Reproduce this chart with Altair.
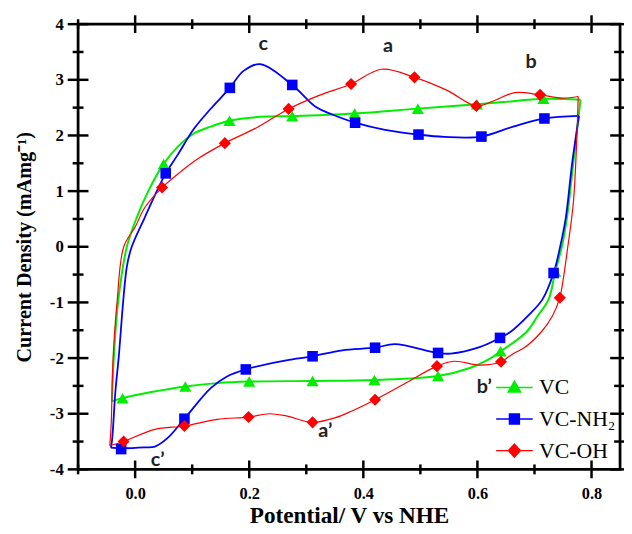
import altair as alt
import pandas as pd

series_names = ["VC", "VC-NH₂", "VC-OH"]
line_colors = ["#00ee00", "#0000ff", "#ff0000"]
line_widths = [2.0, 1.8, 1.2]
marker_shapes = ["triangle-up", "square", "diamond"]
marker_sizes = [150, 115, 150]

# ---- curve points (anodic "up" branch and cathodic "down" branch) ----
vc_up_x = [-0.0404, -0.0398, -0.0375, -0.030, -0.0145, 0.003, 0.023, 0.050, 0.0748, 0.1037, 0.1325, 0.1653, 0.219, 0.2754, 0.3848, 0.4955, 0.599, 0.645, 0.7157, 0.7807]
vc_up_y = [-2.777, -2.5, -2.01, -1.0, 0.0, 0.53, 1.0, 1.489, 1.80, 2.04, 2.158, 2.264, 2.335, 2.347, 2.394, 2.482, 2.56, 2.60, 2.66, 2.642]
vc_dn_x = [0.7807, 0.768, 0.757, 0.748, 0.7364, 0.7248, 0.7058, 0.6856, 0.6406, 0.622, 0.588, 0.531, 0.4194, 0.311, 0.1999, 0.144, 0.088, 0.0287, -0.022, -0.0404]
vc_dn_y = [2.642, 1.5, 0.53, 0.0, -0.443, -0.945, -1.24, -1.536, -1.879, -2.01, -2.174, -2.323, -2.394, -2.411, -2.422, -2.45, -2.51, -2.61, -2.72, -2.777]

nh_up_x = [-0.0426, -0.0405, -0.0346, -0.029, -0.0145, -0.006, 0.017, 0.038, 0.0536, 0.0748, 0.1037, 0.1325, 0.166, 0.190, 0.219, 0.2754, 0.317, 0.3457, 0.3856, 0.438, 0.4967, 0.5416, 0.607, 0.6626, 0.7174, 0.778]
nh_up_y = [-3.61, -3.48, -2.6, -2.01, -0.355, 0.0, 0.53, 1.0, 1.319, 1.656, 2.128, 2.48, 2.855, 3.16, 3.28, 2.908, 2.51, 2.376, 2.229, 2.10, 2.016, 1.975, 1.98, 2.158, 2.305, 2.35]
nh_dn_x = [0.778, 0.766, 0.755, 0.745, 0.7335, 0.714, 0.6885, 0.657, 0.6396, 0.605, 0.553, 0.531, 0.455, 0.4206, 0.363, 0.311, 0.265, 0.194, 0.161, 0.1325, 0.0864, 0.0576, 0.0346, 0.017, -0.0245, -0.0426]
nh_dn_y = [2.35, 1.5, 0.53, 0.0, -0.472, -0.945, -1.24, -1.536, -1.637, -1.80, -1.92, -1.908, -1.75, -1.814, -1.86, -1.968, -2.04, -2.204, -2.33, -2.54, -3.09, -3.43, -3.59, -3.605, -3.62, -3.61]

oh_up_x = [-0.0444, -0.042, -0.0387, -0.0317, -0.020, 0.0, 0.0173, 0.0472, 0.08, 0.11, 0.1573, 0.213, 0.269, 0.3226, 0.3786, 0.432, 0.4897, 0.547, 0.598, 0.628, 0.6655, 0.7098, 0.749, 0.7767]
oh_up_y = [-3.575, -3.19, -2.01, -1.0, 0.0, 0.355, 0.71, 1.064, 1.35, 1.58, 1.862, 2.14, 2.477, 2.72, 2.926, 3.19, 3.044, 2.81, 2.53, 2.62, 2.77, 2.73, 2.67, 2.70]
oh_dn_x = [0.7767, 0.7684, 0.7576, 0.7494, 0.7444, 0.7317, 0.7115, 0.680, 0.668, 0.654, 0.6413, 0.605, 0.559, 0.529, 0.4724, 0.4206, 0.380, 0.3514, 0.311, 0.265, 0.235, 0.1988, 0.144, 0.0864, 0.0346, -0.0202, -0.0444]
oh_dn_y = [2.70, 0.828, -0.06, -0.65, -0.915, -1.24, -1.536, -1.83, -1.89, -1.98, -2.067, -2.128, -2.057, -2.145, -2.46, -2.748, -2.95, -3.07, -3.155, -3.04, -3.0, -3.06, -3.10, -3.22, -3.28, -3.498, -3.575]

# ---- marker points ----
vc_mk_x = [0.050, 0.1653, 0.2754, 0.3848, 0.4955, 0.599, 0.7157, 0.7364, 0.6406, 0.531, 0.4194, 0.311, 0.1999, 0.088, -0.022]
vc_mk_y = [1.489, 2.264, 2.347, 2.394, 2.482, 2.56, 2.66, -0.443, -1.879, -2.323, -2.394, -2.411, -2.422, -2.51, -2.72]
nh_mk_x = [0.0536, 0.166, 0.2754, 0.3856, 0.4967, 0.607, 0.7174, 0.7335, 0.6396, 0.531, 0.4206, 0.311, 0.194, 0.0864, -0.0245]
nh_mk_y = [1.319, 2.855, 2.908, 2.229, 2.016, 1.98, 2.305, -0.472, -1.637, -1.908, -1.814, -1.968, -2.204, -3.09, -3.635]
oh_mk_x = [0.0472, 0.1573, 0.269, 0.3786, 0.4897, 0.598, 0.7098, 0.7444, 0.6413, 0.529, 0.4206, 0.311, 0.1988, 0.0864, -0.0202]
oh_mk_y = [1.064, 1.862, 2.477, 2.926, 3.044, 2.53, 2.73, -0.915, -2.067, -2.145, -2.748, -3.155, -3.06, -3.22, -3.498]

# ---- peak annotations ----
ann_text = ["c", "a", "b", "c’", "a’", "b’"]
ann_x = [0.2246, 0.4434, 0.694, 0.0396, 0.3335, 0.612]
ann_y = [3.64, 3.61, 3.32, -3.83, -3.31, -2.53]

# ---- axis ticks ----
x_major = [0.0, 0.2, 0.4, 0.6, 0.8]
x_minor = [-0.1, 0.1, 0.3, 0.5, 0.7]
y_major = [-4, -3, -2, -1, 0, 1, 2, 3, 4]
y_minor = [-3.5, -2.5, -1.5, -0.5, 0.5, 1.5, 2.5, 3.5]

legend_paths = [
    "M-1.85,0L1.85,0M-0.62,0.45L0,-0.62L0.62,0.45Z",
    "M-1.85,0L1.85,0M-0.5,-0.5L0.5,-0.5L0.5,0.5L-0.5,0.5Z",
    "M-1.85,0L1.85,0M0,-0.65L0.6,0L0,0.65L-0.6,0Z",
]

# ---- build tables ----
curves = {
    "VC": [(vc_up_x, vc_up_y), (vc_dn_x, vc_dn_y)],
    "VC-NH₂": [(nh_up_x, nh_up_y), (nh_dn_x, nh_dn_y)],
    "VC-OH": [(oh_up_x, oh_up_y), (oh_dn_x, oh_dn_y)],
}
rows = []
for s, branches in curves.items():
    for b, (xs, ys) in enumerate(branches):
        for i, (xv, yv) in enumerate(zip(xs, ys)):
            rows.append({"series": s, "seg": f"{s}-{b}", "i": i, "x": xv, "y": yv})
lines_df = pd.DataFrame(rows)

mk = {"VC": (vc_mk_x, vc_mk_y), "VC-NH₂": (nh_mk_x, nh_mk_y), "VC-OH": (oh_mk_x, oh_mk_y)}
mrows = []
for s, (xs, ys) in mk.items():
    for xv, yv in zip(xs, ys):
        mrows.append({"series": s, "x": xv, "y": yv})
markers_df = pd.DataFrame(mrows)

ann_df = pd.DataFrame({"t": ann_text, "x": ann_x, "y": ann_y})

W, H = 549, 451
xscale = alt.Scale(domain=[-0.1, 0.85], nice=False, zero=False)
yscale = alt.Scale(domain=[-4, 4], nice=False, zero=False)
SERIF = "Liberation Serif"

def X(field="x:Q"):
    return alt.X(field, scale=xscale, axis=None)

def Y(field="y:Q"):
    return alt.Y(field, scale=yscale, axis=None)

# axis layer carrying tick labels and titles
ax_a = alt.Chart(markers_df).mark_point(opacity=0).encode(
    x=alt.X("x:Q", scale=xscale, axis=alt.Axis(
        orient="bottom", values=x_major, labelExpr="format(datum.value, '.1f')",
        offset=-9, labelPadding=26, labelFont=SERIF, labelFontSize=16.5,
        labelFontWeight="bold", labelColor="black", title="Potential/ V vs NHE",
        titleFont=SERIF, titleFontSize=23.5, titleFontWeight="bold", titleColor="black",
        titlePadding=1, domain=False, grid=False, ticks=False)),
    y=alt.Y("y:Q", scale=yscale, axis=alt.Axis(
        orient="left", values=y_major, labelExpr="'' + datum.value",
        offset=-10, labelPadding=25, labelFont=SERIF, labelFontSize=17,
        labelFontWeight="bold", labelColor="black", title="Current Density (mAmg⁻¹)",
        titleFont=SERIF, titleFontSize=20.5, titleFontWeight="bold", titleColor="black",
        titlePadding=15, domain=False, grid=False, ticks=False)),
)

# crossing tick marks on all four sides, placed by the scales
def xticks(vals, half, at):
    return alt.Chart(pd.DataFrame({"v": vals})).mark_rule(color="black", strokeWidth=2.5).encode(
        x=X("v:Q"), y=alt.value(at - half), y2=alt.value(at + half))

def yticks(vals, half, at):
    return alt.Chart(pd.DataFrame({"v": vals})).mark_rule(color="black", strokeWidth=2.5).encode(
        y=Y("v:Q"), x=alt.value(at - half), x2=alt.value(at + half))

tick_layers = [
    xticks(x_major, 9, H), xticks(x_minor, 5, H), xticks(x_major, 9, 0), xticks(x_minor, 5, 0),
    yticks(y_major, 10.5, 0), yticks(y_minor, 5.5, 0), yticks(y_major, 10, W), yticks(y_minor, 6, W),
]

line_layers = []
point_layers = []
for s, col, lw, shp, sz in zip(series_names, line_colors, line_widths, marker_shapes, marker_sizes):
    line_layers.append(
        alt.Chart(lines_df[lines_df["series"] == s]).mark_line(
            interpolate="catmull-rom", color=col, strokeWidth=lw).encode(
            x=X(), y=Y(), detail="seg:N", order="i:Q")
    )
    point_layers.append(
        alt.Chart(markers_df[markers_df["series"] == s]).mark_point(
            filled=True, opacity=1, shape=shp, size=sz, color=col).encode(x=X(), y=Y())
    )

leg = alt.Legend(title=None, orient="none", legendX=431, legendY=357, symbolSize=400,
                 symbolStrokeWidth=1.5, symbolOpacity=1, symbolFillColor="white",
                 labelFont=SERIF, labelFontSize=22,
                 labelColor="black", labelOffset=14, rowPadding=10, padding=0)

legend_layer = alt.Chart(markers_df).mark_point(filled=True, opacity=0).encode(
    x=X(), y=Y(),
    fill=alt.Fill("series:N", scale=alt.Scale(domain=series_names, range=line_colors), legend=leg),
    stroke=alt.Stroke("series:N", scale=alt.Scale(domain=series_names, range=line_colors), legend=leg),
    shape=alt.Shape("series:N", scale=alt.Scale(domain=series_names, range=legend_paths), legend=leg),
)

labels = alt.Chart(ann_df).mark_text(font="Lato", fontSize=20, fontWeight="bold", color="#222222").encode(
    x=X(), y=Y(), text="t:N",
)

chart = alt.layer(ax_a, *line_layers, *point_layers, legend_layer, labels, *tick_layers).resolve_axis(
    x="independent", y="independent"
).properties(
    width=W, height=H,
    padding={"left": 71, "top": 13, "right": 4, "bottom": 55},
    autosize=alt.AutoSizeParams(type="none"),
).configure_view(stroke="black", strokeWidth=2.8)

chart.save("out.html", embed_options={"renderer": "svg", "actions": False})
